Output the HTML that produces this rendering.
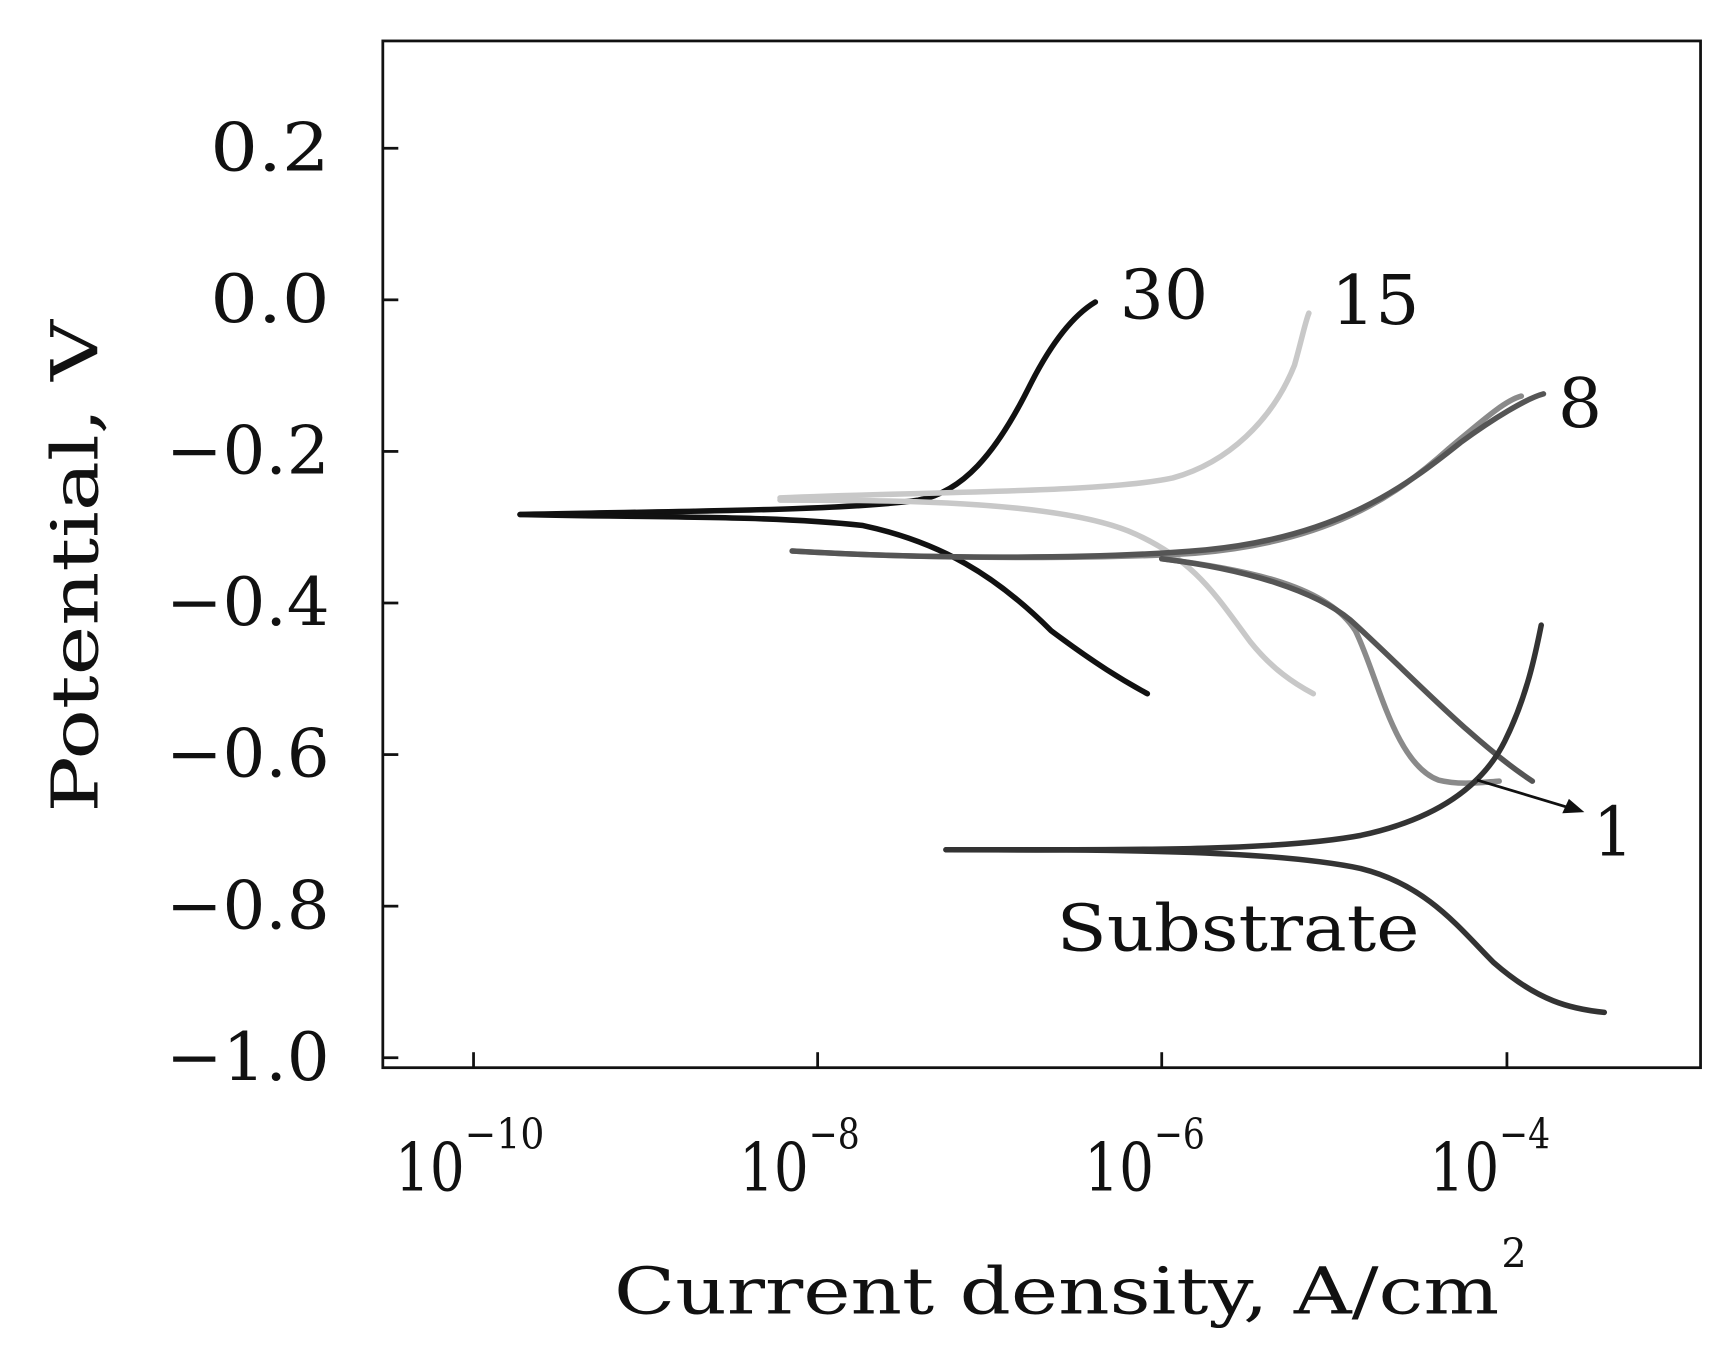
<!DOCTYPE html>
<html><head><style>html,body{margin:0;padding:0;background:#fff}svg{display:block}</style></head>
<body>
<svg width="1726" height="1362" viewBox="0 0 1560 1231" preserveAspectRatio="none" xmlns="http://www.w3.org/2000/svg" font-family="'DejaVu Serif', 'Liberation Serif', serif">
<rect x="0" y="0" width="1560" height="1231" fill="#fff"/>
<rect x="346" y="37" width="1191" height="928" fill="none" stroke="#111" stroke-width="2.5"/>
<g stroke="#111" stroke-width="2.5">
<line x1="346" y1="134" x2="360" y2="134"/><line x1="346" y1="271" x2="360" y2="271"/><line x1="346" y1="408" x2="360" y2="408"/><line x1="346" y1="545" x2="360" y2="545"/><line x1="346" y1="682" x2="360" y2="682"/><line x1="346" y1="819" x2="360" y2="819"/><line x1="346" y1="956" x2="360" y2="956"/>
<line x1="428" y1="965" x2="428" y2="951"/><line x1="739" y1="965" x2="739" y2="951"/><line x1="1050" y1="965" x2="1050" y2="951"/><line x1="1362" y1="965" x2="1362" y2="951"/>
</g>
<g font-size="60" fill="#111">
<text x="190" y="154" textLength="108" lengthAdjust="spacingAndGlyphs">0.2</text>
<text x="190" y="291" textLength="108" lengthAdjust="spacingAndGlyphs">0.0</text>
<text x="150" y="428" textLength="148" lengthAdjust="spacingAndGlyphs">−0.2</text>
<text x="150" y="565" textLength="148" lengthAdjust="spacingAndGlyphs">−0.4</text>
<text x="150" y="702" textLength="148" lengthAdjust="spacingAndGlyphs">−0.6</text>
<text x="150" y="839" textLength="148" lengthAdjust="spacingAndGlyphs">−0.8</text>
<text x="150" y="976" textLength="148" lengthAdjust="spacingAndGlyphs">−1.0</text>
</g>
<g fill="#111">
<text x="357" y="1076" font-size="60" textLength="63" lengthAdjust="spacingAndGlyphs">10</text><text x="420" y="1038" font-size="38" textLength="72" lengthAdjust="spacingAndGlyphs">−10</text>
<text x="668" y="1076" font-size="60" textLength="63" lengthAdjust="spacingAndGlyphs">10</text><text x="731" y="1038" font-size="38" textLength="46" lengthAdjust="spacingAndGlyphs">−8</text>
<text x="980" y="1076" font-size="60" textLength="63" lengthAdjust="spacingAndGlyphs">10</text><text x="1043" y="1038" font-size="38" textLength="46" lengthAdjust="spacingAndGlyphs">−6</text>
<text x="1292" y="1076" font-size="60" textLength="63" lengthAdjust="spacingAndGlyphs">10</text><text x="1355" y="1038" font-size="38" textLength="46" lengthAdjust="spacingAndGlyphs">−4</text>
<text x="555" y="1187" font-size="58" textLength="800" lengthAdjust="spacingAndGlyphs">Current density, A/cm</text><text x="1357" y="1145" font-size="36">2</text>
<text transform="translate(88,512) rotate(-90)" text-anchor="middle" font-size="58" textLength="445" lengthAdjust="spacingAndGlyphs">Potential, V</text>
<text x="1012" y="288" font-size="62" textLength="80" lengthAdjust="spacingAndGlyphs">30</text>
<text x="1203" y="293" font-size="62" textLength="80" lengthAdjust="spacingAndGlyphs">15</text>
<text x="1408" y="386" font-size="62" textLength="40" lengthAdjust="spacingAndGlyphs">8</text>
<text x="1440" y="773" font-size="62" textLength="36" lengthAdjust="spacingAndGlyphs">1</text>
<text x="955" y="859" font-size="58" textLength="328" lengthAdjust="spacingAndGlyphs">Substrate</text>
</g>
<g fill="none" stroke-width="5" stroke-linecap="round">
<path d="M470,465 C600,462 760,462 830,452 C870,445 900,410 930,350 C950,310 970,285 990,273" stroke="#111"/>
<path d="M470,465 C600,468 700,466 780,475 C850,490 900,520 950,570 C990,600 1015,615 1037,627" stroke="#111"/>
<path d="M705,450 C850,444 1000,445 1060,432 C1110,418 1150,380 1170,330 C1177,305 1180,290 1183,283" stroke="#c8c8c8"/>
<path d="M705,452 C800,452 950,452 1020,480 C1080,505 1100,540 1130,580 C1150,605 1170,618 1187,627" stroke="#c8c8c8"/>
<path d="M716,498 C850,506 1000,505 1080,500 C1200,490 1260,450 1310,405 C1340,380 1360,362 1375,358" stroke="#8a8a8a"/>
<path d="M1050,505 C1130,515 1200,530 1225,570 C1245,610 1260,690 1300,705 C1320,710 1340,707 1355,706" stroke="#8a8a8a"/>
<path d="M716,498 C850,506 1000,505 1090,497 C1210,485 1270,440 1320,400 C1350,378 1380,360 1395,356" stroke="#555"/>
<path d="M1050,505 C1130,515 1190,535 1220,560 C1270,605 1330,670 1385,706" stroke="#555"/>
<path d="M855,768 C1000,768 1150,770 1230,755 C1300,740 1340,710 1360,670 C1380,630 1388,590 1393,565" stroke="#333"/>
<path d="M855,768 C1000,768 1150,768 1230,785 C1290,800 1320,840 1350,870 C1390,905 1420,912 1450,915" stroke="#333"/>
</g>
<line x1="1335" y1="705" x2="1418" y2="730" stroke="#111" stroke-width="2.5"/>
<polygon points="1432,734 1412,735 1418,722" fill="#111"/>
</svg>
</body></html>
